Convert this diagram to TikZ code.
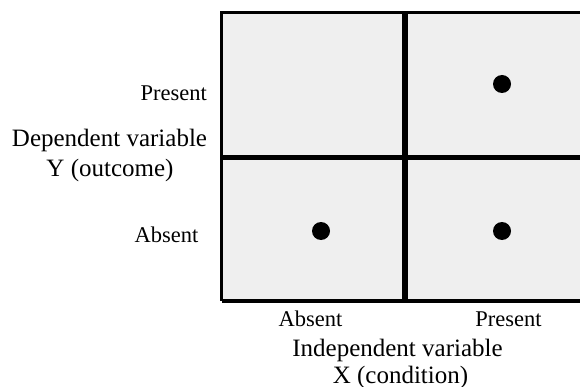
\documentclass[tikz,border=0pt]{standalone}
\usepackage{fontspec}
\setmainfont{Liberation Serif}
\begin{document}
\begin{tikzpicture}[x=1pt,y=-1pt,
  axlabel/.style={inner sep=0pt,font=\fontsize{25}{30}\selectfont},
  catlabel/.style={inner sep=0pt,font=\fontsize{22.5}{27}\selectfont},
  dot/.style={circle,fill=black,inner sep=0pt,minimum size=18pt},
  gridline/.style={line width=5.5pt,black}]
\useasboundingbox (0,0) rectangle (580,387);
\clip (0,0) rectangle (580,387);
\fill[fill={rgb,255:red,239;green,239;blue,239}] (221.5,12.5) rectangle (590,300.5);
% grid coordinates
\coordinate (tl) at (221.5,12.5);
\coordinate (bl) at (221.5,300.5);
\coordinate (tr) at (590,12.5);
\coordinate (br) at (590,300.5);
\coordinate (mt) at (405,12.5);
\coordinate (mb) at (405,300.5);
\coordinate (ml) at (221.5,157.5);
\coordinate (mr) at (590,157.5);
\draw[line width=3pt] (tr) -- (tl) -- (bl);
\draw[line width=4pt] (bl) -- (br);
\draw[gridline] (mt) -- (mb);
\draw[gridline] (ml) -- (mr);
% dots
\node[dot] (d1) at (502,84) {};
\node[dot] (d2) at (321,231) {};
\node[dot] (d3) at (502,231) {};
% left labels
\node[catlabel,anchor=base east] (ypres) at (207,100.5) {Present};
\node[catlabel,anchor=base east] (yabs) at (198.5,242) {Absent};
\node[axlabel,anchor=base] (ydep) at (109.5,147) {Dependent variable};
\node[axlabel,anchor=base] (yout) at (110,177) {Y (outcome)};
% bottom labels
\node[catlabel,anchor=base] (xabs) at (310.5,326.5) {Absent};
\node[catlabel,anchor=base] (xpres) at (508.5,326.5) {Present};
\node[axlabel,anchor=base] (xind) at (397.5,356) {Independent variable};
\node[axlabel,anchor=base] (xcond) at (400.5,383) {X (condition)};
\end{tikzpicture}
\end{document}
